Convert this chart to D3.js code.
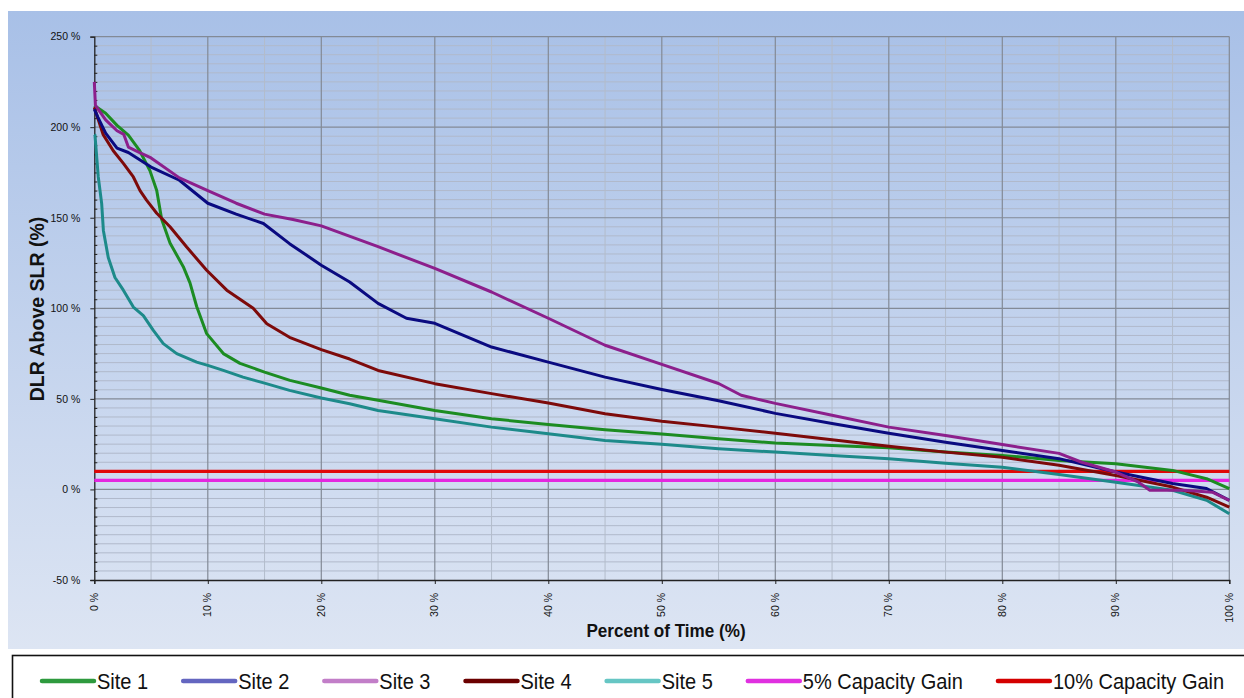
<!DOCTYPE html>
<html>
<head>
<meta charset="utf-8">
<script src="https://cdn.jsdelivr.net/npm/d3@7"></script>
<style>
  html, body { margin: 0; padding: 0; background: #ffffff; }
  svg { display: block; font-family: "Liberation Sans", Arial, sans-serif; }
</style>
</head>
<body>
<svg id="chart" width="1244" height="698"></svg>
<script>
// ---------- DATA (percent of time, DLR above SLR %) ----------
const site1 = [[0,212],[1,207.7],[2,201],[3,195.6],[4,187],[4.9,176],[5.5,165],[5.94,149],[6.67,136],[7.84,123],[8.43,114],[9.02,101],[9.9,86],[11.37,75],[12.84,69.6],[15,64.8],[17.24,60.2],[20,56],[22.5,52],[25,49.2],[30,43.6],[35,39],[40,35.9],[45,33],[50,30.6],[55,28],[60,25.6],[65,24.3],[70,23],[75,20.6],[80,18.8],[85,16],[90,14.2],[95,10.5],[98,5.9],[100,0.4]];
const site2 = [[0,210],[0.3,205.7],[1,196.7],[2,188.4],[3,186],[4,182],[5,178],[7.5,170.7],[10,158],[12.5,152],[14.9,146.8],[17.2,135.7],[20,123.8],[22.5,114.5],[25,102.7],[27.5,94.5],[30,91.7],[35,78.6],[40,70.3],[45,62],[50,55.2],[55,49],[60,42],[65,36.4],[70,31],[75,26],[80,21.5],[85,17],[90,9.6],[95,3.3],[98,0.5],[100,-6]];
const site3 = [[0,225],[0.1,212],[1,204],[2,198],[2.6,196],[3,189],[4,186],[5,183],[7.5,172],[10,165],[12.5,158],[15,152],[17.5,149],[20,145.5],[25,134],[30,122],[35,109],[40,94.5],[45,79.6],[50,69],[55,58.5],[57,52],[60,47.5],[65,41],[70,34.4],[75,29.8],[80,24.8],[85,19.9],[87,15],[90,9.6],[92,4],[93,-0.5],[96,-0.5],[98.5,-1.5],[100,-6]];
const site4 = [[0,211],[0.77,196],[1.67,187],[2.56,180],[3.44,172.5],[4.03,165],[4.6,159.7],[5.5,152.5],[6.67,145],[8.14,133.8],[9.9,121],[11.67,110],[14,100],[15.2,91.5],[17.2,84],[20,77.2],[22.5,72],[25,65.7],[30,58.4],[35,52.9],[40,47.7],[45,41.8],[50,37.7],[55,34.4],[60,31],[65,27.4],[70,23.8],[75,20.6],[80,17.8],[85,13.3],[90,7.7],[95,1.3],[98,-4.3],[100,-9.8]];
const site5 = [[0,196],[0.06,195.6],[0.35,172.5],[0.65,157.8],[0.8,143],[1.23,128],[1.82,117],[2.56,110],[3.44,100.7],[4.32,96],[5.2,87.8],[6.08,80.5],[7.26,75],[9.02,70.3],[10,68.5],[11.37,65.7],[13.1,62],[15,58.7],[17.2,54.7],[20,50.5],[22.5,47.3],[25,43.6],[30,39],[35,34.4],[40,30.8],[45,27],[50,24.9],[55,22.5],[60,20.6],[65,18.8],[70,17],[75,14.5],[80,12.3],[85,8.3],[90,4],[95,-0.5],[98,-6],[100,-13.4]];
const gain5 = [[0,5],[100,5]];
const gain10 = [[0,10],[100,10]];

const seriesNames = ["Site 1","Site 2","Site 3","Site 4","Site 5","5% Capacity Gain","10% Capacity Gain"];
const seriesData = [site1, site2, site3, site4, site5, gain5, gain10];
const lineColors = ["#1c8c22","#0a0a80","#8c1f8c","#7d0a0a","#1d8a8a","#e426e0","#e00808"];
const legendColors = ["#2e9a3e","#6466c0","#c27ec8","#6b0000","#66c6c4","#e030e0","#d40000"];

const yTicksMajor = [-50, 0, 50, 100, 150, 200, 250];
const xTicksMajor = [0,10,20,30,40,50,60,70,80,90,100];
const yTickLabels = ["-50 %","0 %","50 %","100 %","150 %","200 %","250 %"];
const xTickLabels = ["0 %","10 %","20 %","30 %","40 %","50 %","60 %","70 %","80 %","90 %","100 %"];

const xTitle = "Percent of Time (%)";
const yTitle = "DLR Above SLR (%)";

// ---------- LAYOUT ----------
const svg = d3.select("#chart");
const L = 94.3, R = 1229.3, T = 36.6, B = 580;
const x = d3.scaleLinear().domain([0,100]).range([L,R]);
const y = d3.scaleLinear().domain([-50,250]).range([B,T]);

// background gradient
const defs = svg.append("defs");
const grad = defs.append("linearGradient").attr("id","bg").attr("x1",0).attr("y1",0).attr("x2",0).attr("y2",1);
grad.append("stop").attr("offset","0%").attr("stop-color","#a8c0e7");
grad.append("stop").attr("offset","100%").attr("stop-color","#dde5f3");
svg.append("rect").attr("x",8).attr("y",11).attr("width",1236).attr("height",638).attr("fill","url(#bg)");

// grid: minor
const g = svg.append("g");
const yMinor = d3.range(-45, 250, 5).filter(v => v % 50 !== 0);
g.selectAll(".hmin").data(yMinor).join("line")
  .attr("x1",L).attr("x2",R).attr("y1",d=>y(d)).attr("y2",d=>y(d))
  .attr("stroke","#b0b9cb").attr("stroke-width",1);
const xMinor = d3.range(5, 100, 10);
g.selectAll(".vmin").data(xMinor).join("line")
  .attr("x1",d=>x(d)).attr("x2",d=>x(d)).attr("y1",T).attr("y2",B)
  .attr("stroke","#b3bccb").attr("stroke-width",1);
// grid: major
g.selectAll(".hmaj").data(yTicksMajor.filter(v=>v>-50)).join("line")
  .attr("x1",L).attr("x2",R).attr("y1",d=>y(d)).attr("y2",d=>y(d))
  .attr("stroke","#838a96").attr("stroke-width",1.2);
g.selectAll(".vmaj").data(xTicksMajor.filter(v=>v>0)).join("line")
  .attr("x1",d=>x(d)).attr("x2",d=>x(d)).attr("y1",T).attr("y2",B)
  .attr("stroke","#838a96").attr("stroke-width",1.2);

// axes
const yAxis = d3.axisLeft(y).tickValues(yTicksMajor).tickSize(4)
  .tickFormat((d,i)=>yTickLabels[i]);
const yAx = svg.append("g").attr("transform",`translate(${L},0)`).call(yAxis);
yAx.select(".domain").attr("stroke","#222").attr("stroke-width",1.3);
yAx.selectAll(".tick line").attr("stroke","#222");
yAx.selectAll(".tick text").attr("font-size","10.5px").attr("fill","#111")
  .attr("font-family","Liberation Sans, Arial, sans-serif").attr("x",-14);
// minor y ticks (inside)
const yMinorAxis = d3.axisRight(y).tickValues(yMinor).tickSize(3).tickFormat("");
const yMi = svg.append("g").attr("transform",`translate(${L},0)`).call(yMinorAxis);
yMi.select(".domain").remove();
yMi.selectAll(".tick line").attr("stroke","#222");

const xAxis = d3.axisBottom(x).tickValues(xTicksMajor).tickSize(4).tickFormat("");
const xAx = svg.append("g").attr("transform",`translate(0,${B})`).call(xAxis);
xAx.select(".domain").attr("stroke","#222").attr("stroke-width",1.3);
xAx.selectAll(".tick line").attr("stroke","#222");
svg.append("g").selectAll("text").data(xTicksMajor).join("text")
  .attr("transform",(d)=>`translate(${x(d)},593) rotate(-90)`)
  .attr("text-anchor","end").attr("dy","0.35em")
  .attr("font-size","10.5px").attr("fill","#111")
  .text((d,i)=>xTickLabels[i]);

// lines
const line = d3.line().x(d=>x(d[0])).y(d=>y(d[1]));
const order = [5,6,4,0,3,1,2];
svg.append("g").selectAll("path").data(order).join("path")
  .attr("d", i => line(seriesData[i]))
  .attr("fill","none").attr("stroke", i => lineColors[i])
  .attr("stroke-width", i => i >= 5 ? 3.2 : 3)
  .attr("stroke-linejoin","round");

// axis titles
svg.append("g").attr("transform","translate(666,637) scale(0.9,1)")
  .append("text").attr("text-anchor","middle").attr("font-weight","bold")
  .attr("font-size","19px").attr("fill","#111").text(xTitle);
svg.append("g").attr("transform","translate(44,309) rotate(-90)")
  .append("text").attr("text-anchor","middle").attr("font-weight","bold")
  .attr("font-size","19.5px").attr("fill","#111").text(yTitle);

// legend
svg.append("rect").attr("x",12.5).attr("y",655.5).attr("width",1240).attr("height",60)
  .attr("fill","#ffffff").attr("stroke","#111").attr("stroke-width",1.6);
let lx = 42;
const lg = svg.append("g");
seriesNames.forEach((name,i)=>{
  lg.append("line").attr("x1",lx).attr("x2",lx+52).attr("y1",681).attr("y2",681)
    .attr("stroke",legendColors[i]).attr("stroke-width",4.5).attr("stroke-linecap","round");
  const tg = lg.append("g").attr("transform",`translate(${lx+55},681) scale(0.91,1)`);
  const t = tg.append("text").attr("dy","0.36em").attr("font-size","22px").attr("fill","#111").text(name);
  const w = t.node().getComputedTextLength()*0.91;
  lx = lx + 55 + w + 35;
});
</script>
</body>
</html>
